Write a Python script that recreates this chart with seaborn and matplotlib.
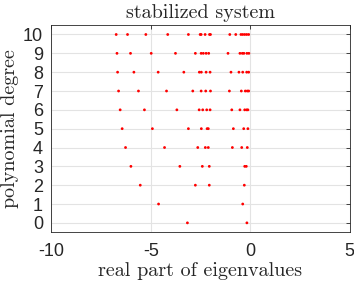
import matplotlib
matplotlib.use("Agg")
import matplotlib.pyplot as plt
import seaborn as sns
import pandas as pd

deg0 = [-3.16, -0.17]
deg1 = [-4.61, -0.38]
deg2 = [-5.53, -2.76, -2.06, -0.30]
deg3 = [-6.00, -3.54, -2.41, -2.06, -0.28, -0.20]
deg4 = [-6.27, -4.31, -2.64, -2.26, -2.11, -0.90, -0.43, -0.15]
deg5 = [-6.44, -4.92, -3.11, -2.46, -2.17, -2.11, -0.85, -0.33, -0.12]
deg6 = [-6.54, -5.32, -3.69, -2.57, -2.39, -2.19, -2.02, -0.93, -0.52, -0.28, -0.18, -0.12]
deg7 = [-6.62, -5.62, -4.21, -2.89, -2.47, -2.24, -2.00, -1.05, -0.45, -0.25, -0.15, -0.08]
deg8 = [-6.67, -5.85, -4.63, -3.34, -2.56, -2.46, -2.22, -2.02, -0.97, -0.57, -0.38, -0.18, -0.08]
deg9 = [-6.70, -6.02, -4.98, -3.76, -2.76, -2.47, -2.36, -2.22, -2.09, -1.12, -0.52, -0.40, -0.32, -0.17, -0.07]
deg10 = [-6.74, -6.17, -5.25, -4.15, -3.11, -2.52, -2.47, -2.27, -2.05, -2.00, -1.03, -0.73, -0.47, -0.38, -0.28, -0.18, -0.08]

degrees = [deg0, deg1, deg2, deg3, deg4, deg5, deg6, deg7, deg8, deg9, deg10]
xticks = [-10, -5, 0, 5]
yticks = list(range(0, 11))

rows = []
for d, vals in enumerate(degrees):
    for v in vals:
        rows.append({"re": v, "deg": d})
df = pd.DataFrame(rows)

sns.set_style("white")
fig = plt.figure(figsize=(3.54, 2.85), dpi=100)
ax = fig.add_axes([0.145, 0.185, 0.843, 0.727])
sns.scatterplot(data=df, x="re", y="deg", ax=ax, color="red", s=4,
                edgecolor="none", linewidth=0, marker="o", zorder=3)
ax.set_xlim(-10, 5)
ax.set_ylim(-0.5, 10.5)
ax.set_xticks(xticks)
ax.set_yticks(yticks)
ax.set_xticklabels([str(t) for t in xticks], family="Liberation Sans", fontsize=13)
ax.set_yticklabels([str(t) for t in yticks], family="Liberation Sans", fontsize=13)
ax.grid(True, color="#e3e3e3", linewidth=0.8)
ax.set_axisbelow(True)
for s in ax.spines.values():
    s.set_color("#262626")
    s.set_linewidth(0.6)
ax.tick_params(direction="in", length=3, width=0.6, color="#262626",
               top=True, right=True, labelcolor="#262626")
ax.tick_params(axis="x", pad=8)
ax.tick_params(axis="y", pad=6)
ax.set_xlabel("real part of eigenvalues", family="cmr10", fontsize=14.5, labelpad=1)
ax.set_ylabel("polynomial degree", family="cmr10", fontsize=14.5, labelpad=3)
ax.set_title("stabilized system", family="cmr10", fontsize=14.5, pad=5)
fig.savefig("out.png", dpi=100)
